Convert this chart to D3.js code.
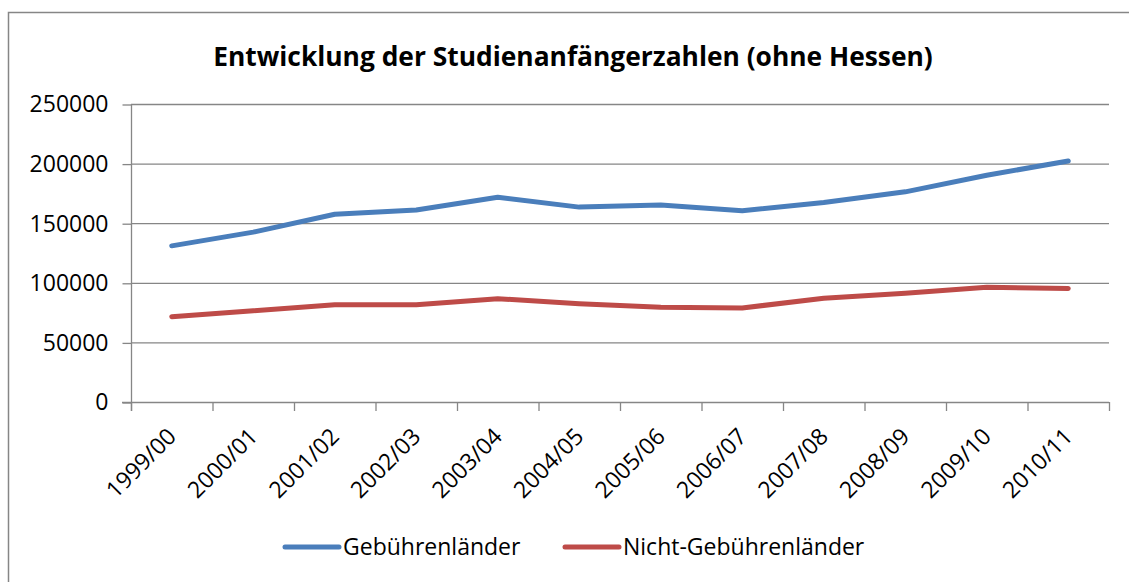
<!DOCTYPE html>
<html>
<head>
<meta charset="utf-8">
<script src="https://cdn.jsdelivr.net/npm/d3@7"></script>
<style>
  body { margin: 0; background: #fff; }
  svg { display: block; font-family: "Open Sans", sans-serif; }
</style>
</head>
<body>
<script>
var categories = ["1999/00", "2000/01", "2001/02", "2002/03", "2003/04", "2004/05",
                  "2005/06", "2006/07", "2007/08", "2008/09", "2009/10", "2010/11"];
var gebuehren = [131000, 142500, 157500, 161000, 171800, 163500,
                 165300, 160500, 167300, 176300, 190200, 202200];
var nichtGebuehren = [71600, 76500, 81600, 81500, 86700, 82400,
                      79400, 78900, 87000, 91200, 96200, 95300];
var yTicks = [0, 50000, 100000, 150000, 200000, 250000];
var seriesNames = ["Gebührenländer", "Nicht-Gebührenländer"];
var colors = ["#4A7EBB", "#BE4B48"];

var W = 1129, H = 582;
var plotLeft = 131, plotRight = 1109, plotTop = 104, plotBottom = 402;
var gridColor = "#868686";

var svg = d3.select("body").append("svg").attr("width", W).attr("height", H);

// chart frame (runs off the page at right and bottom)
svg.append("path")
    .attr("d", "M8.5," + (H + 5) + " L8.5,12.5 L" + (W + 5) + ",12.5")
    .attr("fill", "none")
    .attr("stroke", gridColor)
    .attr("stroke-width", 1.5);

var x = d3.scaleBand().domain(categories).range([plotLeft, plotRight]);
var y = d3.scaleLinear().domain([0, 250000]).range([plotBottom, plotTop]);

// title, fitted to its width in the picture
var title = svg.append("text")
    .attr("x", 573).attr("y", 66)
    .attr("text-anchor", "middle")
    .attr("font-weight", "bold")
    .attr("font-size", 24)
    .attr("fill", "#000")
    .text("Entwicklung der Studienanfängerzahlen (ohne Hessen)");
var tw = title.node().getComputedTextLength();
title.attr("font-size", 24 * 720 / tw);

// gridlines
svg.append("g").selectAll("line")
    .data(yTicks.slice(1))
    .enter().append("line")
        .attr("x1", plotLeft).attr("x2", plotRight)
        .attr("y1", function (d) { return y(d) + 0.5; })
        .attr("y2", function (d) { return y(d) + 0.5; })
        .attr("stroke", gridColor)
        .attr("stroke-width", 1.3);

// y axis
var yAxis = svg.append("g")
    .attr("transform", "translate(" + (plotLeft + 0.5) + ",0.5)")
    .call(d3.axisLeft(y).tickValues(yTicks).tickSize(9).tickPadding(14).tickFormat(d3.format("d")));
yAxis.select(".domain").remove();
yAxis.selectAll("line").attr("stroke", gridColor).attr("stroke-width", 1.3);
yAxis.selectAll("text").attr("font-size", 23).attr("font-family", "Open Sans").attr("fill", "#000");
svg.append("line")
    .attr("x1", plotLeft + 0.5).attr("x2", plotLeft + 0.5)
    .attr("y1", plotTop).attr("y2", plotBottom + 9)
    .attr("stroke", gridColor).attr("stroke-width", 1.3);

// x axis with ticks at category boundaries
svg.append("line")
    .attr("x1", plotLeft - 9).attr("x2", plotRight)
    .attr("y1", plotBottom + 0.5).attr("y2", plotBottom + 0.5)
    .attr("stroke", gridColor).attr("stroke-width", 1.3);
var bounds = categories.map(function (c) { return x(c); }).concat([x.range()[1]]);
svg.append("g").selectAll("line")
    .data(bounds)
    .enter().append("line")
        .attr("x1", function (d) { return d + 0.5; })
        .attr("x2", function (d) { return d + 0.5; })
        .attr("y1", plotBottom).attr("y2", plotBottom + 9)
        .attr("stroke", gridColor).attr("stroke-width", 1.3);

svg.append("g").selectAll("text")
    .data(categories)
    .enter().append("text")
        .attr("transform", function (d) {
            return "translate(" + (x(d) + x.bandwidth() / 2) + "," + 432 + ") rotate(-45)";
        })
        .attr("text-anchor", "end")
        .attr("dy", "0.36em")
        .attr("font-size", 23)
        .attr("fill", "#000")
        .text(function (d) { return d; });

// lines
var line = d3.line()
    .x(function (d, i) { return x(categories[i]) + x.bandwidth() / 2; })
    .y(function (d) { return y(d); });

[gebuehren, nichtGebuehren].forEach(function (s, k) {
    svg.append("path")
        .datum(s)
        .attr("d", line)
        .attr("fill", "none")
        .attr("stroke", colors[k])
        .attr("stroke-width", 5)
        .attr("stroke-linejoin", "round")
        .attr("stroke-linecap", "round");
});

// legend
var legendX = [285, 565];
var legend = svg.append("g").selectAll("g")
    .data(seriesNames)
    .enter().append("g")
        .attr("transform", function (d, i) { return "translate(" + legendX[i] + ",547)"; });
legend.append("line")
    .attr("x1", 0).attr("x2", 54)
    .attr("stroke", function (d, i) { return colors[i]; })
    .attr("stroke-width", 5)
    .attr("stroke-linecap", "round");
legend.append("text")
    .attr("x", 58)
    .attr("dy", "0.36em")
    .attr("font-size", 23)
    .attr("fill", "#000")
    .text(function (d) { return d; });
</script>
</body>
</html>
